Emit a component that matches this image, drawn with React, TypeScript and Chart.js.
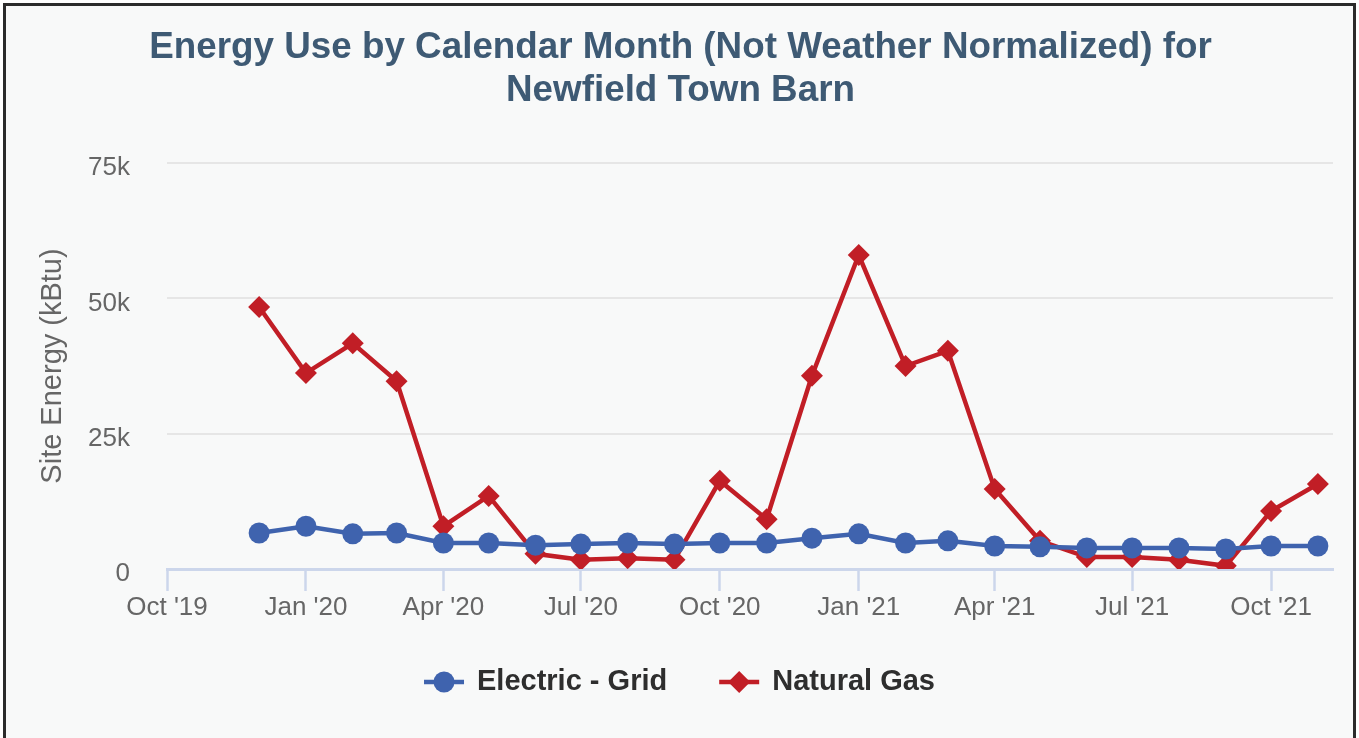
import React, { useEffect, useRef } from "react";
import { Chart, registerables } from "chart.js";

Chart.register(...registerables);

const chartTitle = [
  "Energy Use by Calendar Month (Not Weather Normalized) for",
  "Newfield Town Barn",
];
const yAxisTitle = "Site Energy (kBtu)";
const seriesNames = ["Electric - Grid", "Natural Gas"];

const months = [
  "2019-12-01", "2020-01-01", "2020-02-01", "2020-03-01", "2020-04-01", "2020-05-01",
  "2020-06-01", "2020-07-01", "2020-08-01", "2020-09-01", "2020-10-01", "2020-11-01",
  "2020-12-01", "2021-01-01", "2021-02-01", "2021-03-01", "2021-04-01", "2021-05-01",
  "2021-06-01", "2021-07-01", "2021-08-01", "2021-09-01", "2021-10-01", "2021-11-01",
];

const electricGrid = [
  6650, 7900, 6500, 6650, 4800, 4800, 4400, 4600, 4800, 4600, 4800, 4800,
  5700, 6500, 4800, 5200, 4250, 4100, 3900, 3900, 3900, 3700, 4250, 4250,
];

const naturalGas = [
  48400, 36200, 41700, 34700, 7900, 13500, 2800, 1700, 2000, 1700, 16300, 9200,
  35700, 58000, 37500, 40300, 14800, 5200, 2200, 2200, 1700, 600, 10700, 15700,
];

const axisStart = "2019-10-01";
const axisEndDays = 772;
const xTickDates = [
  "2019-10-01", "2020-01-01", "2020-04-01", "2020-07-01", "2020-10-01",
  "2021-01-01", "2021-04-01", "2021-07-01", "2021-10-01",
];
const xTickLabels = [
  "Oct '19", "Jan '20", "Apr '20", "Jul '20", "Oct '20",
  "Jan '21", "Apr '21", "Jul '21", "Oct '21",
];
const yTickValues = [0, 25000, 50000, 75000];
const yTickLabels = ["0", "25k", "50k", "75k"];

const BLUE = "#3f63ae";
const RED = "#c11e26";
const FONT = "'Liberation Sans', Arial, Helvetica, sans-serif";
const CIRCLE_R = 10.5;
const DIAMOND_R = 11;
const LINE_W = 4.5;

const DAY = 86400000;
const toDays = (d: string) =>
  (Date.parse(d + "T00:00:00Z") - Date.parse(axisStart + "T00:00:00Z")) / DAY;

const titlePlugin = {
  id: "customTitle",
  afterDraw(chart: any) {
    const ctx = chart.ctx;
    ctx.save();
    ctx.font = `bold 36.8px ${FONT}`;
    ctx.fillStyle = "#3e5a74";
    ctx.textAlign = "center";
    ctx.textBaseline = "alphabetic";
    const cx = chart.width / 2 + 1;
    ctx.fillText(chartTitle[0], cx, 51.5);
    ctx.fillText(chartTitle[1], cx, 95);
    ctx.restore();
  },
};

const legendPlugin = {
  id: "customLegend",
  afterDraw(chart: any) {
    const ctx = chart.ctx;
    ctx.save();
    ctx.font = `bold 29px ${FONT}`;
    const symW = 40;
    const symGap = 13;
    const itemGap = 52;
    const items = chart.data.datasets.map((ds: any) => ({
      label: ds.label,
      color: ds.borderColor,
      style: ds.pointStyle,
      w: symW + symGap + ctx.measureText(ds.label).width,
    }));
    const total = items.reduce((a: number, it: any) => a + it.w, 0) + itemGap * (items.length - 1);
    let x = chart.width / 2 - total / 2;
    const cy = 676;
    for (const it of items) {
      ctx.strokeStyle = it.color;
      ctx.fillStyle = it.color;
      ctx.lineWidth = LINE_W;
      ctx.beginPath();
      ctx.moveTo(x, cy);
      ctx.lineTo(x + symW, cy);
      ctx.stroke();
      const mx = x + symW / 2;
      ctx.beginPath();
      if (it.style === "rectRot") {
        const r = DIAMOND_R;
        ctx.moveTo(mx, cy - r);
        ctx.lineTo(mx + r, cy);
        ctx.lineTo(mx, cy + r);
        ctx.lineTo(mx - r, cy);
        ctx.closePath();
      } else {
        ctx.arc(mx, cy, CIRCLE_R, 0, Math.PI * 2);
      }
      ctx.fill();
      ctx.fillStyle = "#2e2e2e";
      ctx.textAlign = "left";
      ctx.textBaseline = "alphabetic";
      ctx.fillText(it.label, x + symW + symGap, 683.5);
      x += it.w + itemGap;
    }
    ctx.restore();
  },
};

export default function App() {
  const ref = useRef<HTMLCanvasElement | null>(null);

  useEffect(() => {
    if (!ref.current) return;
    Chart.defaults.font.family = FONT;
    const xs = months.map(toDays);
    const chart = new Chart(ref.current, {
      type: "line",
      data: {
        datasets: [
          {
            label: seriesNames[0],
            data: electricGrid.map((v, i) => ({ x: xs[i], y: v })),
            borderColor: BLUE,
            backgroundColor: BLUE,
            borderWidth: LINE_W,
            pointStyle: "circle",
            pointRadius: CIRCLE_R,
            pointBorderWidth: 0,
            pointBackgroundColor: BLUE,
            tension: 0,
          },
          {
            label: seriesNames[1],
            data: naturalGas.map((v, i) => ({ x: xs[i], y: v })),
            borderColor: RED,
            backgroundColor: RED,
            borderWidth: LINE_W,
            pointStyle: "rectRot",
            pointRadius: DIAMOND_R,
            pointBorderWidth: 0,
            pointBackgroundColor: RED,
            tension: 0,
          },
        ],
      },
      options: {
        responsive: false,
        animation: false,
        layout: { padding: { top: 157, left: 0, right: 20, bottom: 122 } },
        plugins: {
          legend: { display: false },
          title: { display: false },
          tooltip: { enabled: false },
        },
        scales: {
          x: {
            type: "linear",
            min: 0,
            max: axisEndDays,
            afterBuildTicks: (s: any) => {
              s.ticks = xTickDates.map((d) => ({ value: toDays(d) }));
            },
            afterFit: (s: any) => {
              s.height = 60;
            },
            border: { display: true, color: "#ccd6eb", width: 3 },
            grid: {
              display: true,
              drawOnChartArea: false,
              drawTicks: true,
              tickLength: 22,
              tickColor: "#ccd6eb",
              tickWidth: 2.5,
            },
            ticks: {
              autoSkip: false,
              maxRotation: 0,
              padding: 1,
              color: "#666666",
              font: { size: 26, family: FONT },
              callback: (_v: any, i: number) => xTickLabels[i],
            },
          },
          y: {
            min: 0,
            max: 75000,
            afterBuildTicks: (s: any) => {
              s.ticks = yTickValues.map((v) => ({ value: v }));
            },
            afterFit: (s: any) => {
              s.width = 161;
            },
            border: { display: false },
            grid: { color: "#e6e6e6", lineWidth: 2, drawTicks: false },
            ticks: {
              padding: 37,
              labelOffset: 5,
              color: "#666666",
              font: { size: 26, family: FONT },
              callback: (_v: any, i: number) => yTickLabels[i],
            },
            title: {
              display: true,
              text: yAxisTitle,
              color: "#666666",
              font: { size: 29, family: FONT },
              padding: { top: 30, bottom: 0 },
            },
          },
        },
      },
      plugins: [titlePlugin, legendPlugin],
    });
    return () => chart.destroy();
  }, []);

  return (
    <div
      style={{
        position: "absolute",
        left: 3,
        top: 3,
        width: 1347,
        height: 745,
        border: "3px solid #2b2b2b",
        background: "#f8f9f9",
      }}
    >
      <canvas ref={ref} width={1347} height={745} style={{ display: "block" }} />
    </div>
  );
}
